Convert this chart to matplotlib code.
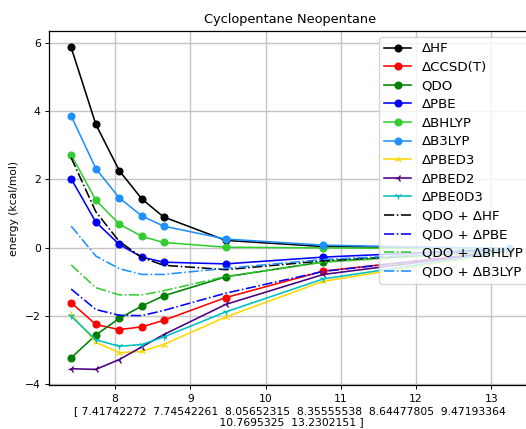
import matplotlib
matplotlib.use("Agg")
import matplotlib.pyplot as plt

# separations (Angstrom) for the scan
dist = [7.41742272, 7.74542261, 8.05652315, 8.35555538, 8.64477805,
        9.47193364, 10.7695325, 13.2302151]

# interaction energies, kcal/mol
d_hf = [5.88, 3.62, 2.26, 1.43, 0.90, 0.21, 0.03, -0.03]
d_ccsdt = [-1.62, -2.26, -2.41, -2.33, -2.14, -1.47, -0.69, -0.10]
qdo = [-3.24, -2.57, -2.08, -1.72, -1.42, -0.86, -0.42, -0.06]
d_pbe = [2.02, 0.75, 0.09, -0.28, -0.43, -0.48, -0.28, -0.04]
d_bhlyp = [2.73, 1.39, 0.69, 0.33, 0.15, 0.01, -0.01, -0.04]
d_b3lyp = [3.87, 2.32, 1.46, 0.93, 0.63, 0.25, 0.07, -0.03]
d_pbed3 = [-1.96, -2.78, -3.09, -3.05, -2.85, -2.04, -0.99, -0.12]
d_pbed2 = [-3.56, -3.58, -3.29, -2.92, -2.56, -1.67, -0.79, -0.10]
d_pbe0d3 = [-2.02, -2.71, -2.90, -2.85, -2.63, -1.89, -0.92, -0.11]
qdo_hf = [2.64, 1.05, 0.18, -0.29, -0.52, -0.65, -0.39, -0.09]
qdo_pbe = [-1.22, -1.82, -1.99, -2.00, -1.85, -1.34, -0.70, -0.10]
qdo_bhlyp = [-0.51, -1.18, -1.39, -1.39, -1.27, -0.85, -0.43, -0.10]
qdo_b3lyp = [0.63, -0.25, -0.62, -0.79, -0.79, -0.61, -0.35, -0.09]

plt.rcParams['font.family'] = 'DejaVu Sans'

fig = plt.figure(figsize=(5.26, 4.29), dpi=100)
ax = fig.add_axes([0.0937, 0.1014, 0.9148, 0.8256])

lw = 1.15
ms = 4.8
ax.plot(dist, d_hf, '-o', color='black', lw=lw, ms=ms, label='ΔHF')
ax.plot(dist, d_ccsdt, '-o', color='red', lw=lw, ms=ms, label='ΔCCSD(T)')
ax.plot(dist, qdo, '-o', color='green', lw=lw, ms=ms, label='QDO')
ax.plot(dist, d_pbe, '-o', color='blue', lw=lw, ms=ms, label='ΔPBE')
ax.plot(dist, d_bhlyp, '-o', color='limegreen', lw=lw, ms=ms, label='ΔBHLYP')
ax.plot(dist, d_b3lyp, '-o', color='dodgerblue', lw=lw, ms=ms, label='ΔB3LYP')
ax.plot(dist, d_pbed3, '-2', color='gold', lw=lw, ms=ms, label='ΔPBED3')
ax.plot(dist, d_pbed2, '-3', color='indigo', lw=lw, ms=ms, label='ΔPBED2')
ax.plot(dist, d_pbe0d3, '-1', color='c', lw=lw, ms=ms, label='ΔPBE0D3')
ax.plot(dist, qdo_hf, '-.', color='black', lw=lw, label='QDO + ΔHF')
ax.plot(dist, qdo_pbe, '-.', color='blue', lw=lw, label='QDO + ΔPBE')
ax.plot(dist, qdo_bhlyp, '-.', color='limegreen', lw=lw, label='QDO + ΔBHLYP')
ax.plot(dist, qdo_b3lyp, '-.', color='dodgerblue', lw=lw, label='QDO + ΔB3LYP')

ax.set_title('Cyclopentane Neopentane', fontsize=9.3)
ax.set_ylabel('energy (kcal/mol)', fontsize=7.75)
ax.set_xlabel('[ 7.41742272  7.74542261  8.05652315  8.35555538  8.64477805  9.47193364\n'
              ' 10.7695325  13.2302151 ]', fontsize=7.75, labelpad=1.6, linespacing=1.1)
ax.tick_params(labelsize=7.75, length=2.7, width=0.7)
ax.grid(True, color='#c4c4c4', lw=1.0)
for s in ax.spines.values():
    s.set_linewidth(0.9)
ax.spines['right'].set_visible(False)
ax.legend(loc='upper left', bbox_to_anchor=(379 / 526, 392 / 429),
          bbox_transform=fig.transFigure, borderaxespad=0,
          fontsize=9.6, handlelength=2.0, labelspacing=0.42)

fig.savefig('out.png', dpi=100)
